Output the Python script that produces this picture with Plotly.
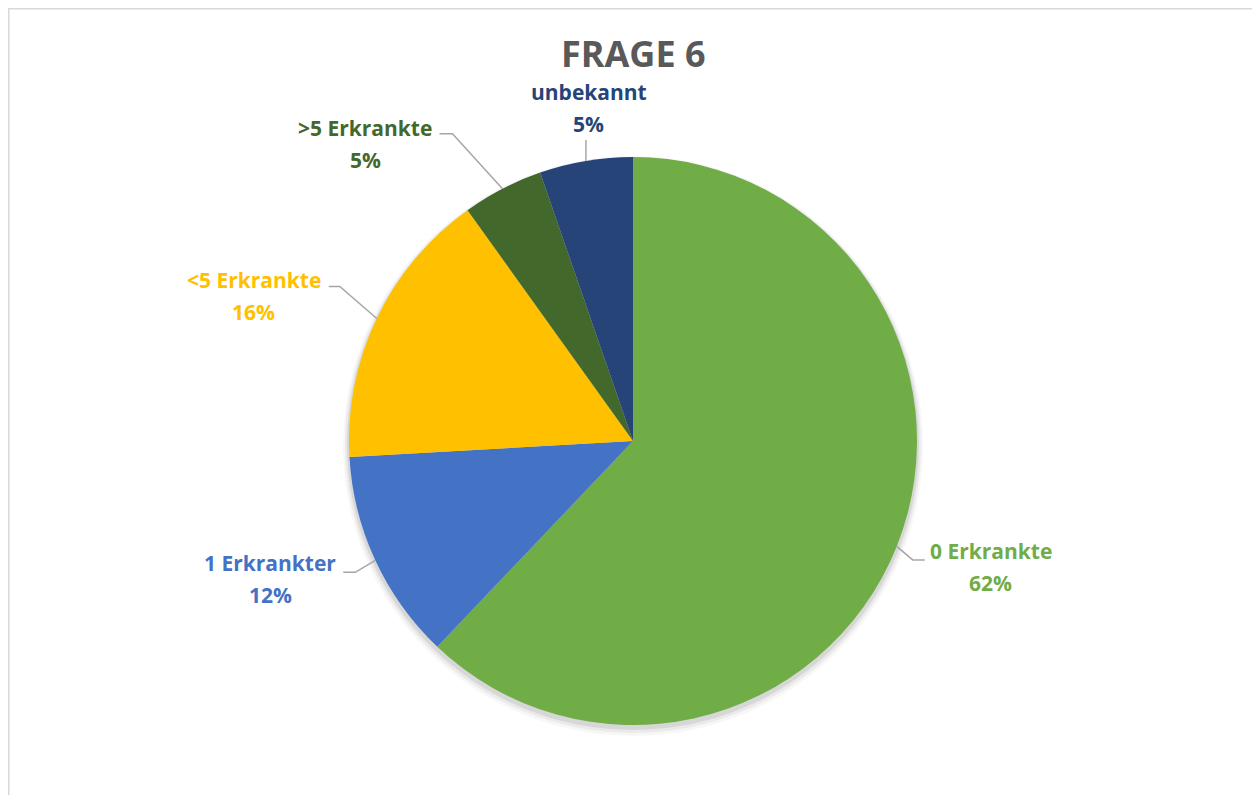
import math
import plotly.graph_objects as go

# Daten
kategorien = ["0 Erkrankte", "1 Erkrankter", "<5 Erkrankte", ">5 Erkrankte", "unbekannt"]
anteile = [62.1, 12.0, 16.0, 4.6, 5.3]
prozent_text = ["62%", "12%", "16%", "5%", "5%"]
farben = ["#70AD47", "#4472C4", "#FFC000", "#43682B", "#264478"]

W, H = 1260, 795
OFF = 8  # Seitenrand des Browsers
CX, CY, R = 633, 441, 284
FONT = "Open Sans"

# Beschriftungslayout relativ zum Ankerpunkt am Kreisrand (Pixel):
# (knick_dx, knick_dy, ende_dx, text_dx, text_dy)
label_layout = [
    (16, 13.5, 28, 94, 5),
    (-20, 12, -32, -105, 3),
    (-37, -32, -48, -123, -38),
    (-50, -55, -63, -137, -61),
    (0, -21, 0, 3, -69),
]


def px(x):
    return (x - OFF) / W


def py(y):
    return 1 - (y - OFF) / H


fig = go.Figure()
fig.add_trace(go.Pie(
    labels=kategorien,
    values=anteile,
    sort=False,
    direction="clockwise",
    rotation=0,
    marker=dict(colors=farben, line=dict(width=0)),
    textinfo="none",
    hoverinfo="label+percent",
    showlegend=False,
    domain=dict(x=[0, px(1258)], y=[py(CY + R), py(CY - R)]),
))

shapes = []
annotations = []

# weicher Schatten unter dem Kreis
for dr, dy, op in [(6, 5, 0.03), (4, 4, 0.05), (2, 3, 0.08)]:
    shapes.append(dict(type="circle", xref="paper", yref="paper", layer="below",
                       x0=px(CX - R - dr), x1=px(CX + R + dr),
                       y0=py(CY + dy + R + dr), y1=py(CY + dy - R - dr),
                       fillcolor="black", opacity=op, line=dict(width=0)))

total = sum(anteile)
cum = 0
for name, val, txt, col, lay in zip(kategorien, anteile, prozent_text, farben, label_layout):
    mid = (cum + val / 2) / total * 2 * math.pi
    cum += val
    ax = CX + R * math.sin(mid)
    ay = CY - R * math.cos(mid)
    kdx, kdy, edx, tdx, tdy = lay
    kx, ky = ax + kdx, ay + kdy
    ex = ax + edx
    path = f"M {px(ax)},{py(ay)} L {px(kx)},{py(ky)} L {px(ex)},{py(ky)}"
    shapes.append(dict(type="path", xref="paper", yref="paper", path=path,
                       line=dict(color="#A6A6A6", width=1.5)))
    tx = ax + tdx
    for i, t in enumerate([name, txt]):
        annotations.append(dict(
            x=px(tx), y=py(ay + tdy + i * 32), xref="paper", yref="paper",
            text=f"<b>{t}</b>", showarrow=False, xanchor="center", yanchor="middle",
            font=dict(family=FONT, size=21, color=col),
        ))

# Titel
annotations.append(dict(
    x=px(633), y=py(54), xref="paper", yref="paper", text="<b>FRAGE 6</b>",
    showarrow=False, xanchor="center", yanchor="middle",
    font=dict(family=FONT, size=36, color="#595959"),
))

# Rahmen
shapes.append(dict(type="rect", xref="paper", yref="paper",
                   x0=px(8.8), x1=px(1258), y0=-0.05, y1=py(8.8),
                   line=dict(color="#D9D9D9", width=1.5)))

fig.update_layout(
    width=W, height=H,
    margin=dict(l=0, r=0, t=0, b=0),
    paper_bgcolor="white",
    plot_bgcolor="white",
    shapes=shapes,
    annotations=annotations,
)

fig.write_html("out.html")
